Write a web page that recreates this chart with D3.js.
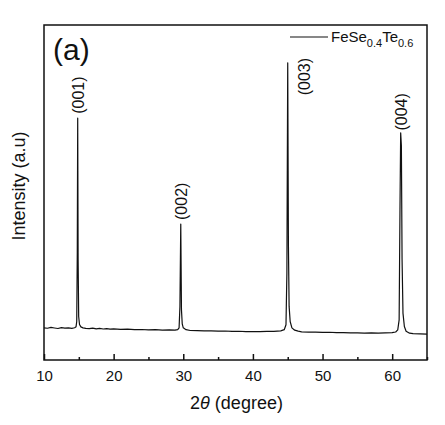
<!DOCTYPE html>
<html>
<head>
<meta charset="utf-8">
<script src="https://cdn.jsdelivr.net/npm/d3@7"></script>
<style>
  body { margin: 0; background: #fff; }
  svg text { font-family: "Liberation Sans", Arial, sans-serif; fill: #111; }
</style>
</head>
<body>
<div id="chart"></div>
<script>
// XRD pattern, values
let twoTheta = [
  10.0, 10.5, 11.0, 11.5, 12.0, 12.5, 13.0, 13.5, 14.0, 14.4, 14.6, 14.7, 14.78, 14.84, 14.9, 14.98, 15.1, 15.3, 15.6,
  16.0, 16.5, 17.0, 17.5, 18.0, 18.5, 19.0, 19.5, 20.0, 21.0, 22.0, 23.0, 24.0, 25.0, 26.0, 27.0, 28.0, 28.8,
  29.2, 29.4, 29.52, 29.64, 29.74, 29.85, 30.0, 30.4, 31.0, 32.0, 33.0, 34.0, 35.0, 36.0, 37.0, 38.0, 39.0,
  40.0, 41.0, 42.0, 43.0, 44.0, 44.5, 44.75, 44.88, 45.0, 45.1, 45.2, 45.35, 45.6, 46.0, 46.5, 47.0, 48.0,
  49.0, 50.0, 51.0, 52.0, 53.0, 54.0, 55.0, 56.0, 57.0, 58.0, 59.0, 60.0, 60.5, 60.8, 61.0, 61.12, 61.22,
  61.32, 61.42, 61.55, 61.75, 62.0, 62.5, 63.0, 64.0, 65.0
];
let intensity = [
  960, 948, 972, 955, 940, 965, 950, 958, 945, 962, 990, 1150, 3200, 7220, 3000, 1300, 1060, 990, 960,
  945, 938, 950, 930, 942, 925, 935, 920, 928, 915, 922, 905, 910, 898, 905, 892, 900, 890,
  905, 960, 1600, 4060, 1500, 1080, 960, 905, 880, 875, 868, 872, 860, 865, 852, 858, 848,
  850, 845, 852, 855, 870, 905, 1050, 2600, 8870, 3400, 1600, 1150, 960, 890, 860, 840, 830,
  835, 822, 828, 815, 820, 810, 812, 805, 810, 800, 808, 815, 835, 900, 1200, 4500, 6780,
  6400, 3000, 1400, 1000, 860, 800, 785, 780, 775
];

// peak labels (Miller indices) and where they sit
let peakNames = ['(001)', '(002)', '(003)', '(004)'];
let peakPos = [14.84, 29.64, 45.0, 61.22];
let peakLabelAt = [7350, 4180, 7900, 6850];   // intensity where label starts
let xTicks = [10, 20, 30, 40, 50, 60];
let xMinorTicks = [15, 25, 35, 45, 55, 65];

let W = 445, H = 425;
let margin = {top: 25, right: 18, bottom: 65, left: 44};
let width = W - margin.left - margin.right,
    height = H - margin.top - margin.bottom;

let svg = d3.select('#chart').append('svg')
    .attr('width', W)
    .attr('height', H);

let g = svg.append('g')
    .attr('transform', 'translate(' + margin.left + ',' + margin.top + ')');

let x = d3.scaleLinear().domain([10, 65]).range([0, width]);
let y = d3.scaleLinear().domain([0, 10000]).range([height, 0]);

let points = twoTheta.map(function(t, i) { return [t, intensity[i]]; });

// the pattern
g.append('path')
    .datum(points)
    .attr('fill', 'none')
    .attr('stroke', '#111')
    .attr('stroke-width', 1.2)
    .attr('stroke-linejoin', 'round')
    .attr('d', d3.line()
        .x(function(d) { return x(d[0]); })
        .y(function(d) { return y(d[1]); }));

// bottom axis, ticks pointing inward
let xAxis = g.append('g')
    .attr('transform', 'translate(0,' + height + ')')
    .call(d3.axisBottom(x).tickValues(xTicks).tickSizeInner(-6).tickSizeOuter(0).tickPadding(10));
xAxis.select('.domain').remove();
xAxis.selectAll('.tick line').attr('stroke', '#111').attr('stroke-width', 1.5);
xAxis.selectAll('.tick text')
    .attr('font-size', 15)
    .attr('font-family', '"Liberation Sans", Arial, sans-serif')
    .attr('fill', '#111');

g.append('g')
    .attr('transform', 'translate(0,' + height + ')')
    .call(d3.axisBottom(x).tickValues(xMinorTicks).tickSizeInner(-3).tickSizeOuter(0).tickFormat(''))
    .call(function(a) { a.select('.domain').remove(); })
    .selectAll('.tick line').attr('stroke', '#111').attr('stroke-width', 1.5);

// frame
g.append('rect')
    .attr('x', 0).attr('y', 0)
    .attr('width', width).attr('height', height)
    .attr('fill', 'none')
    .attr('stroke', '#111')
    .attr('stroke-width', 1.5);

// peak labels, rotated
peakNames.forEach(function(name, i) {
    let dx = (i == 2) ? 22 : 6;
    g.append('text')
        .attr('transform', 'translate(' + (x(peakPos[i]) + dx) + ',' + y(peakLabelAt[i]) + ') rotate(-90)')
        .attr('font-size', 16)
        .text(name);
});

// panel letter
g.append('text')
    .attr('x', 9).attr('y', 35)
    .attr('font-size', 30)
    .text('(a)');

// legend
g.append('line')
    .attr('x1', 246).attr('x2', 284)
    .attr('y1', 12).attr('y2', 12)
    .attr('stroke', '#111')
    .attr('stroke-width', 1.2);
let leg = g.append('text').attr('x', 287).attr('y', 17).attr('font-size', 15);
leg.append('tspan').text('FeSe');
leg.append('tspan').attr('font-size', 11).attr('dy', 5).text('0.4');
leg.append('tspan').attr('dy', -5).text('Te');
leg.append('tspan').attr('font-size', 11).attr('dy', 5).text('0.6');

// axis titles
let xt = svg.append('text')
    .attr('x', margin.left + width / 2 + 1)
    .attr('y', 409)
    .attr('text-anchor', 'middle')
    .attr('font-size', 18);
xt.append('tspan').text('2');
xt.append('tspan').attr('font-style', 'italic').text('θ');
xt.append('tspan').text(' (degree)');

svg.append('text')
    .attr('transform', 'translate(25,' + 186 + ') rotate(-90)')
    .attr('text-anchor', 'middle')
    .attr('font-size', 18)
    .text('Intensity (a.u)');
</script>
</body>
</html>
